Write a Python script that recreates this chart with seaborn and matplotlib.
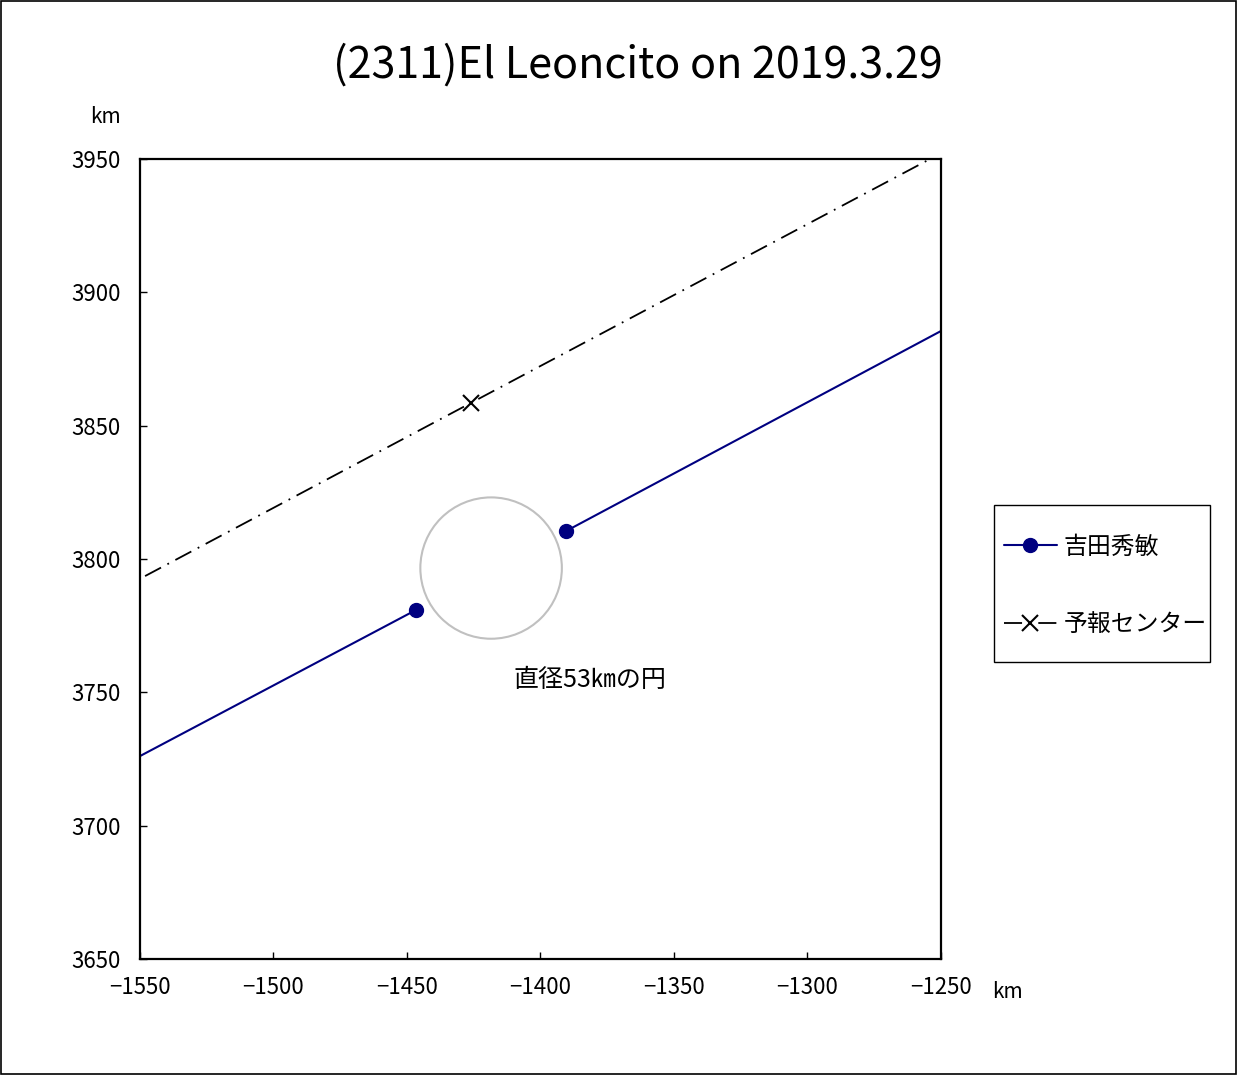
import matplotlib
matplotlib.use("Agg")
import matplotlib.pyplot as plt
import seaborn as sns
import pandas as pd
from matplotlib.patches import Circle, Rectangle
from matplotlib.lines import Line2D

sns.set_style("white")
plt.rcParams['font.family'] = ['Noto Sans CJK JP', 'DejaVu Sans']
plt.rcParams['axes.unicode_minus'] = True
plt.rcParams['text.color'] = 'black'

title = "(2311)El Leoncito on 2019.3.29"
observer_name = "吉田秀敏"
center_name = "予報センター"

# Observer chord segments (outer end at axis edge, inner end = marker)
seg1_x = [-1550.0, -1446.6]
seg1_y = [3726.1, 3780.9]
seg2_x = [-1390.4, -1250.0]
seg2_y = [3810.5, 3885.5]
marker_x = [-1446.6, -1390.4]
marker_y = [3780.9, 3810.5]

# Prediction center line
pred_x = [-1548.1, -1254.1]
pred_y = [3793.6, 3950.0]
pred_center_x = [-1426.0]
pred_center_y = [3858.5]

# Reference circle
circle_cx = -1418.5
circle_cy = 3796.6
circle_diam = 53.0
circle_label = "直径53㎞の円"

xticks = [-1550, -1500, -1450, -1400, -1350, -1300, -1250]
yticks = [3650, 3700, 3750, 3800, 3850, 3900, 3950]

navy = "#000080"
dashdot = (0, (10, 4, 1, 4))

fig = plt.figure(figsize=(12.37, 10.75), dpi=100)
ax = fig.add_axes([140/1237, 1-959/1075, (941-140)/1237, (959-159)/1075])

df1 = pd.DataFrame({"x": seg1_x, "y": seg1_y})
df2 = pd.DataFrame({"x": seg2_x, "y": seg2_y})
dfp = pd.DataFrame({"x": pred_x, "y": pred_y})
sns.lineplot(data=df1, x="x", y="y", ax=ax, color=navy, lw=1.5, sort=False, estimator=None)
sns.lineplot(data=df2, x="x", y="y", ax=ax, color=navy, lw=1.5, sort=False, estimator=None)
ax.plot(marker_x, marker_y, ls="none", marker="o", ms=10, color=navy, zorder=5)
sns.lineplot(data=dfp, x="x", y="y", ax=ax, color="black", lw=1.3, sort=False, estimator=None,
             linestyle=dashdot)
ax.plot(pred_center_x, pred_center_y, ls="none", marker="x", ms=12, mew=1.5, color="black", zorder=5)

ax.add_patch(Circle((circle_cx, circle_cy), circle_diam/2, fill=False, ec="#c0c0c0", lw=1.5))
ax.text(-1381.5, 3754.6, circle_label, ha="center", va="center", fontsize=18, color="black")

ax.set_xlim(-1550, -1250)
ax.set_ylim(3650, 3950)
ax.set_xticks(xticks)
ax.set_yticks(yticks)
ax.set_xticklabels([f"\u2212{abs(v)}" for v in xticks])
ax.set_yticklabels([str(v) for v in yticks])
ax.tick_params(direction="in", length=5, width=1, labelsize=16, colors="black",
               labelcolor="black", bottom=True, left=True, top=False, right=False)
ax.tick_params(axis="y", pad=14)
ax.tick_params(axis="x", pad=12)
ax.set_xlabel("")
ax.set_ylabel("")
for s in ax.spines.values():
    s.set_color("black")
    s.set_linewidth(1.6)

fig.text(638/1237, 1-66/1075, title, ha="center", va="center", fontsize=31, color="black")
fig.text(106/1237, 1-117/1075, "km", ha="center", va="center", fontsize=15, color="black")
fig.text(1007/1237, 1-992/1075, "km", ha="center", va="center", fontsize=15, color="black")

# Legend frame drawn explicitly at the reference position
fig.patches.append(Rectangle((994/1237, 1-662/1075), (1210-994)/1237, (662-505)/1075,
                             transform=fig.transFigure, fill=False, ec="black", lw=1.0))
handles = [
    Line2D([], [], color=navy, lw=1.5, marker="o", ms=10),
    Line2D([], [], color="black", lw=1.3, linestyle=dashdot, marker="x", ms=12, mew=1.5),
]
leg = fig.legend(handles, [observer_name, center_name], loc="center left",
                 bbox_to_anchor=(1004/1237, 1-586/1075), fontsize=17.2, frameon=False,
                 handlelength=2.2, labelspacing=2.3, borderpad=0, handletextpad=0.3,
                 borderaxespad=0)

fig.patches.append(Rectangle((0.0005, 0.0005), 0.999, 0.999, transform=fig.transFigure,
                             fill=False, ec="black", lw=1.2))

fig.savefig("out.png", dpi=100)
